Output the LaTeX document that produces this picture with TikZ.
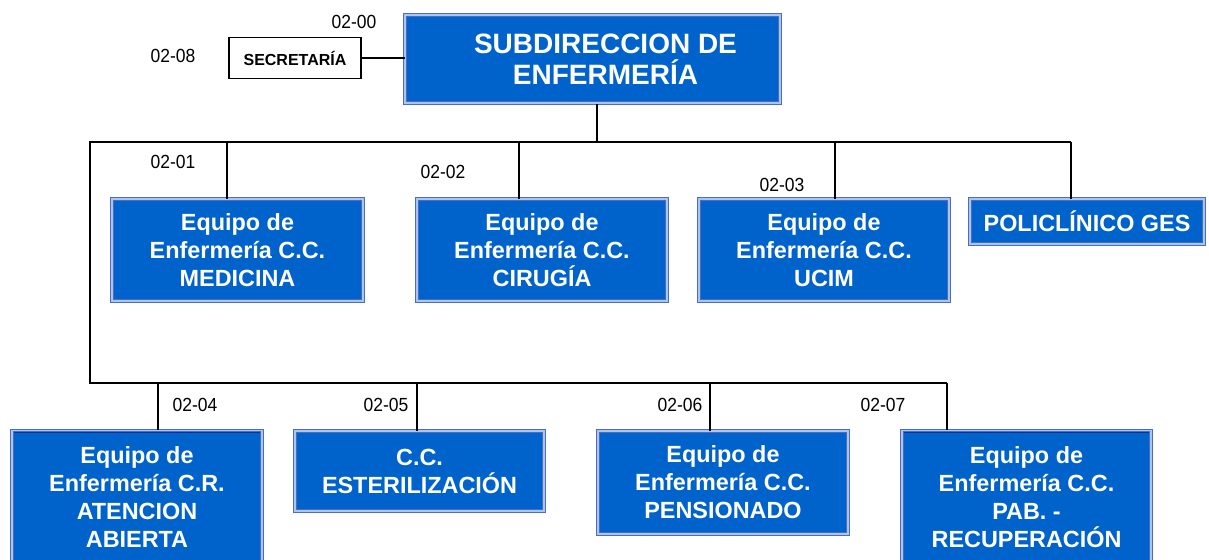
\documentclass[tikz,border=0pt]{standalone}
\usepackage{fontspec}
\setmainfont{Liberation Sans}
\newfontfamily\narrowfont[FakeStretch=0.92]{Liberation Sans}
\usepackage{tikz}
\usetikzlibrary{positioning, calc}
\definecolor{boxblue}{RGB}{0,99,204}
\definecolor{boxdark}{RGB}{0,51,153}
\definecolor{boxedge}{RGB}{70,110,200}
\definecolor{boxpale}{RGB}{175,195,235}

\begin{document}
\begin{tikzpicture}[x=0.5pt, y=-0.5pt,
  unidad/.style={fill=boxblue, draw=boxedge, line width=0.5pt, double=boxpale, double distance=0.7pt,
    text=white, align=center, inner sep=0pt,
    font=\fontsize{11.7}{14}\selectfont\bfseries,
    path picture={\draw[boxdark, line width=2.4pt] (path picture bounding box.south west) rectangle (path picture bounding box.north east);}},
  codigo/.style={font=\narrowfont\fontsize{9.5}{11}\selectfont, inner sep=0pt},
  linea/.style={line width=1.1pt}]
\clip (0,0) rectangle (1209,559);
\fill[white] (0,0) rectangle (1209,559);
% jefatura
\node[unidad, minimum width=187.5pt, minimum height=44pt, font=\fontsize{14}{15.5}\selectfont\bfseries]
  (sub) at (592.5,59) {\hspace*{13pt}SUBDIRECCION DE\\\hspace*{13pt}ENFERMER\'IA};
\node[draw, line width=0.6pt, minimum width=66pt, minimum height=20.5pt, inner sep=0pt,
  font=\fontsize{8}{9}\selectfont\bfseries] (secre) at (295,58) {SECRETAR\'IA};
% primera fila
\node[unidad, minimum width=125.5pt, minimum height=51pt] (med) at (237.5,250) {Equipo de\\Enfermer\'ia C.C.\\MEDICINA};
\node[unidad, minimum width=125pt, minimum height=51pt] (cir) at (542,250) {Equipo de\\Enfermer\'ia C.C.\\CIRUG\'IA};
\node[unidad, minimum width=125pt, minimum height=51pt] (ucim) at (824,250) {Equipo de\\Enfermer\'ia C.C.\\UCIM};
\node[unidad, minimum width=117pt, minimum height=22.5pt] (ges) at (1087,221.5) {POLICL\'INICO GES};
% segunda fila
\node[unidad, minimum width=125pt, minimum height=66.5pt] (aten) at (137,497) {Equipo de\\Enfermer\'ia C.R.\\ATENCION\\ABIERTA};
\node[unidad, minimum width=124.5pt, minimum height=40pt] (est) at (419.5,471) {C.C.\\ESTERILIZACI\'ON};
\node[unidad, minimum width=125pt, minimum height=51.5pt] (pens) at (723,482.5) {Equipo de\\Enfermer\'ia C.C.\\PENSIONADO};
\node[unidad, minimum width=124.5pt, minimum height=66.5pt] (recu) at (1026.5,497) {Equipo de\\Enfermer\'ia C.C.\\PAB. -\\RECUPERACI\'ON};
% codigos
\node[codigo] (c00) at (354,22) {02-00};
\node[codigo] (c08) at (173,56) {02-08};
\node[codigo] (c01) at (173,162) {02-01};
\node[codigo] (c02) at (443,172) {02-02};
\node[codigo] (c03) at (782,185) {02-03};
\node[codigo] (c04) at (195,405) {02-04};
\node[codigo] (c05) at (386,405) {02-05};
\node[codigo] (c06) at (680,405) {02-06};
\node[codigo] (c07) at (883,405) {02-07};
% lineas
\coordinate (busA) at (90,142);
\coordinate (busB) at (90,383);
\coordinate (tsub) at (597,142);
\draw[linea] (secre.east) -- (secre.east -| sub.west);
\draw[linea] (tsub |- sub.south) -- (tsub);
\foreach \nom/\xx in {med/227, cir/519, ucim/835, ges/1071}{
  \coordinate (t\nom) at (\xx,142);
  \draw[linea] (t\nom) -- (t\nom |- \nom.north);
}
\foreach \nom/\xx in {aten/158, est/417, pens/710, recu/947}{
  \coordinate (t\nom) at (\xx,383);
  \draw[linea] (t\nom) -- (t\nom |- \nom.north);
}
\draw[linea] (tges) -- (busA) -- (busB) -- (trecu);
\end{tikzpicture}
\end{document}
